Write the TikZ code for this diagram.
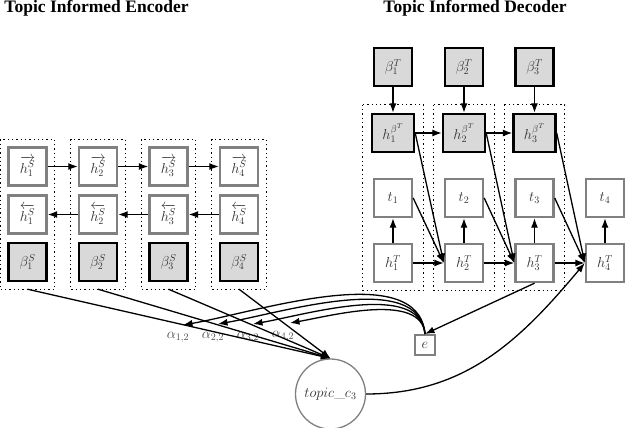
\documentclass[tikz,border=0pt]{standalone}
\usepackage{fontspec}
\newfontfamily\titlefont{Liberation Serif}
\usetikzlibrary{arrows.meta}
\begin{document}
\begin{tikzpicture}[x=1pt,y=-1pt,
  every node/.style={font=\fontsize{14.5}{16}\selectfont, text=black!80},
  hbox/.style={draw=black!50, fill=white, line width=2.4pt, minimum width=38pt, minimum height=38pt, inner sep=0pt},
  bbox/.style={draw=black, fill=black!15, line width=2.4pt, minimum width=38pt, minimum height=38pt, inner sep=0pt},
  colfit/.style={draw=black, line width=1.3pt, dash pattern=on 1.3pt off 3pt},
  arr/.style={-{Latex[length=9.5pt,width=7pt]}, line width=1.3pt},
  lbl/.style={text=black!70},
  title/.style={font=\titlefont\bfseries\fontsize{17.5}{20}\selectfont, text=black}]
\useasboundingbox (0,0) rectangle (629,428);

% titles
\node[title] (tenc) at (96.5,8) {Topic Informed Encoder};
\node[title] (tdec) at (475,8) {Topic Informed Decoder};

% encoder
\foreach \i/\x in {1/27.5,2/98,3/168.5,4/239} {
  \node[hbox] (fh\i) at (\x,166.5) {$\overrightarrow{h_\i^S}$};
  \node[hbox] (bh\i) at (\x,214.5) {$\overleftarrow{h_\i^S}$};
  \node[bbox] (bs\i) at (\x,262) {$\beta_\i^S$};
  \draw[colfit] ([xshift=-7pt,yshift=7pt]fh\i.north west) rectangle ([xshift=7pt,yshift=-7pt]bs\i.south east);
  \coordinate (c\i) at ([yshift=-7pt]bs\i.south);
}
\draw[arr] (fh1) -- (fh2);
\draw[arr] (fh2) -- (fh3);
\draw[arr] (fh3) -- (fh4);
\draw[arr] (bh4) -- (bh3);
\draw[arr] (bh3) -- (bh2);
\draw[arr] (bh2) -- (bh1);

% decoder
\foreach \i/\x in {1/393,2/464,3/534.5} {
  \node[bbox] (bT\i) at (\x,67) {$\beta_\i^T$};
  \node[bbox, minimum width=42pt] (hb\i) at (\x,133) {$h_\i^{\beta^T}$};
}
\foreach \i/\x in {1/393,2/464,3/534.5,4/605} {
  \node[hbox] (t\i) at (\x,198) {$t_\i$};
  \node[hbox] (hT\i) at (\x,263) {$h_\i^T$};
  \draw[arr] (hT\i) -- (t\i);
}
\foreach \i in {1,2,3} {
  \draw[colfit] ([xshift=-8pt,yshift=8pt]hb\i.north west) rectangle ([xshift=8pt,yshift=-7pt]hT\i.south -| hb\i.east);
  \draw[arr] (bT\i) -- (hb\i);
}
\draw[arr] (hb1) -- (hb2);
\draw[arr] (hb2) -- (hb3);
\draw[arr] (hT1) -- (hT2);
\draw[arr] (hT2) -- (hT3);
\draw[arr] (hT3) -- (hT4);
\draw[arr] (t1.east) -- (hT2.west);
\draw[arr] (t2.east) -- (hT3.west);
\draw[arr] (t3.east) -- (hT4.west);
\draw[arr] (hb1.east) -- (hT2.west);
\draw[arr] (hb2.east) -- (hT3.west);
\draw[arr] (hb3.east) -- (hT4.west);

% attention
\node[hbox, minimum size=20pt, line width=2pt] (e) at (425,345) {$e$};
\node[circle, draw=black!50, fill=white, line width=1.3pt, minimum size=70pt, inner sep=0pt] (topic) at (330.5,394) {$topic\_c_3$};

\node[lbl] (a1) at (178,337) {$\alpha_{1,2}$};
\node[lbl] (a2) at (213,337) {$\alpha_{2,2}$};
\node[lbl] (a3) at (248,337) {$\alpha_{3,2}$};
\node[lbl] (a4) at (283,336) {$\alpha_{4,2}$};
\coordinate (p1) at (183,325);
\coordinate (p2) at (218,324);
\coordinate (p3) at (253,324);
\coordinate (p4) at (290,323);

\foreach \i in {1,2,3,4} {
  \draw[arr] (c\i) -- (topic.north);
  \draw[arr] (e.north) to[out=95,in=10,looseness=0.8] (p\i);
}
\draw[arr] (hT3.south) -- (e.north);
\draw[arr] (topic.east) to[out=0,in=230] (hT4.west);
\end{tikzpicture}
\end{document}
